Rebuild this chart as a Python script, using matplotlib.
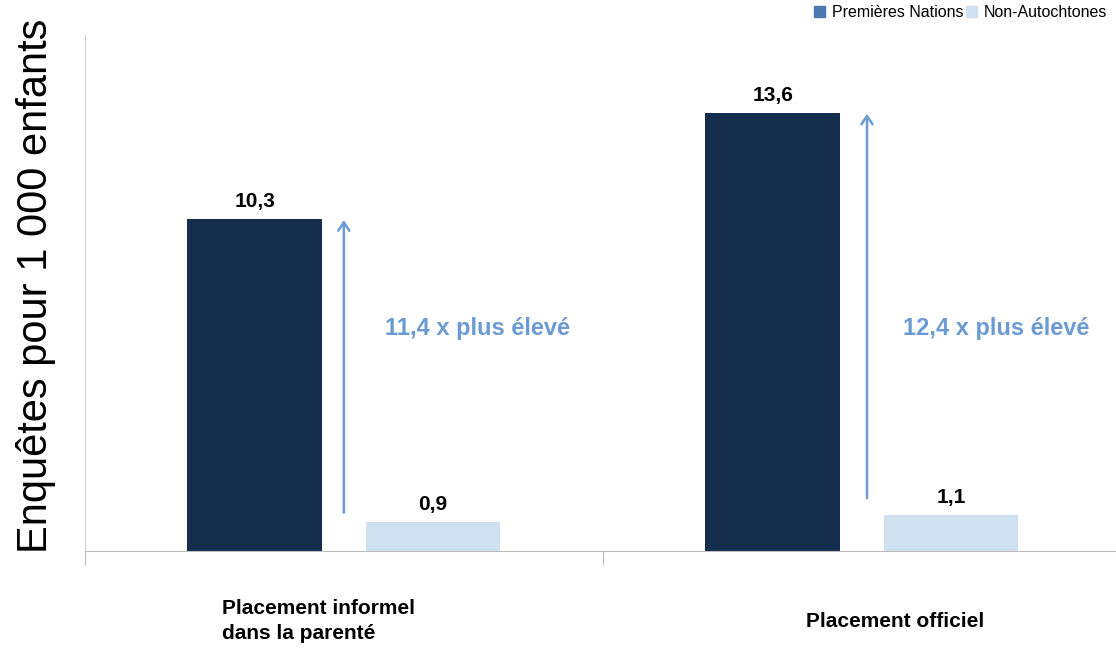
import numpy as np
import matplotlib.pyplot as plt
from matplotlib.patches import Patch

plt.rcParams['font.family'] = ['Liberation Sans', 'DejaVu Sans']

# === Data ===
categories   = ["Placement informel\ndans la parenté", "Placement officiel"]
first_nat    = [10.3, 13.6]
non_autoch   = [0.9, 1.1]
ratio_labels = ["11,4 x plus élevé", "12,4 x plus élevé"]
series_names = ["Premières Nations", "Non-Autochtones"]

dark   = "#142d4c"
light  = "#cfe0f1"
legend_dark = "#4a78b0"
accent = "#6b9bd2"

fig = plt.figure(figsize=(11.16, 6.52), dpi=100)
ax = fig.add_axes([0.076, 0.155, 0.9283, 0.791])

x = np.arange(len(categories))
w = 0.26
off = 0.172
ax.bar(x - off, first_nat, w, color=dark)
ax.bar(x + off, non_autoch, w, color=light)

# value labels
for i in range(len(x)):
    ax.text(x[i] - off, first_nat[i] + 0.25, f"{first_nat[i]:.1f}".replace(".", ","),
            ha="center", va="bottom", fontsize=15, fontweight="bold")
    ax.text(x[i] + off, non_autoch[i] + 0.25, f"{non_autoch[i]:.1f}".replace(".", ","),
            ha="center", va="bottom", fontsize=15, fontweight="bold")

# arrows + ratio text
arrow_x = [0.0, 0.01]
for i in range(len(x)):
    start = non_autoch[i] + 0.2 if i == 0 else non_autoch[i] + 0.45
    ax.annotate("", xy=(x[i] + arrow_x[i], first_nat[i] + 0.05),
                xytext=(x[i] + arrow_x[i], start),
                arrowprops=dict(arrowstyle="->,head_width=0.4,head_length=0.6",
                                color=accent, lw=1.8))
    ax.text(x[i] + 0.079, 6.9, ratio_labels[i], color=accent, fontsize=17,
            fontweight="bold", ha="left", va="center")

ax.set_xlim(-0.5, 1.5)
ax.set_ylim(0, 16)
ax.set_xticks([-0.5, 0.5, 1.5])
ax.set_xticklabels([])
ax.tick_params(axis="x", length=10, color="#bbbbbb", direction="out")
ax.set_yticks([])
for s in ["top", "right"]:
    ax.spines[s].set_visible(False)
ax.spines["left"].set_color("#cccccc")
ax.spines["bottom"].set_color("#bbbbbb")

# category labels
ax.text(-0.235, -1.5, categories[0], fontsize=15, fontweight="bold",
        ha="left", va="top", linespacing=1.4)
ax.text(1.064, -1.9, categories[1], fontsize=15, fontweight="bold",
        ha="center", va="top")

ax.set_ylabel("Enquêtes pour 1 000 enfants", fontsize=30)
ax.yaxis.set_label_coords(-0.028, 0.515)

handles = [Patch(color=legend_dark), Patch(color=light)]
ax.legend(handles, series_names, loc="upper right", bbox_to_anchor=(0.993, 1.07),
          ncol=2, frameon=False, fontsize=11.5, handlelength=0.7, handleheight=0.7,
          handletextpad=0.4, columnspacing=0.2, borderaxespad=0)

fig.savefig("out.png", dpi=100)
